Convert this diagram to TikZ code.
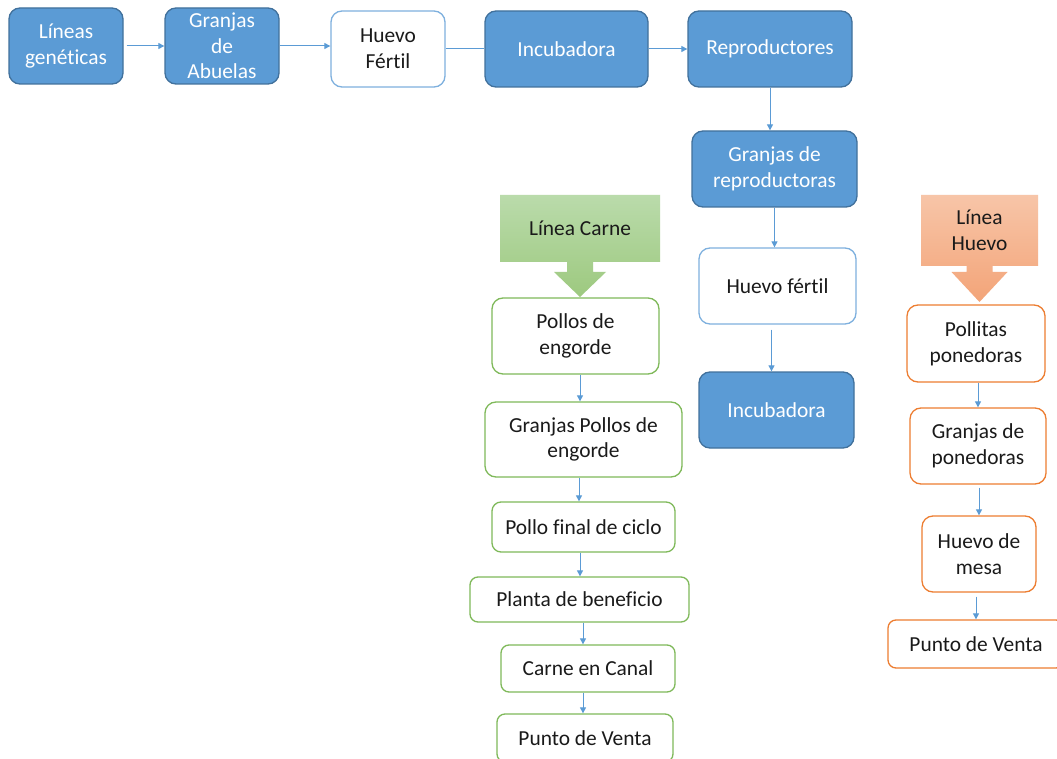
\documentclass[tikz,border=0pt]{standalone}
\usepackage{fontspec}
\setmainfont{Carlito}[Ligatures={NoCommon}]
\usetikzlibrary{calc,arrows.meta}
\definecolor{bfill}{HTML}{5B9BD5}
\definecolor{bdraw}{HTML}{41719C}
\definecolor{lblue}{HTML}{7EB0DE}
\definecolor{gdraw}{HTML}{7FB95A}
\definecolor{odraw}{HTML}{ED7D31}
\definecolor{arrc}{HTML}{5B9BD5}
\definecolor{gtop}{HTML}{BADBAB}
\definecolor{gbot}{HTML}{9DC97F}
\definecolor{otop}{HTML}{F7C5A8}
\definecolor{obot}{HTML}{F3A478}
\definecolor{txt}{HTML}{1A1A1A}
\begin{document}
\begin{tikzpicture}[x=1pt,y=-1pt,
 box/.style={rectangle, rounded corners=11pt, line width=1.3pt, inner sep=0pt, align=center, text=txt,
   font=\fontsize{21.4}{25.7}\selectfont},
 bluebox/.style={box, fill=bfill, draw=bdraw, text=white},
 whitebox/.style={box, fill=white, draw=lblue},
 greenbox/.style={box, fill=white, draw=gdraw},
 orangebox/.style={box, fill=white, draw=odraw},
 arr/.style={draw=arrc, line width=1pt, -{Triangle[length=6pt,width=6pt]}},
 link/.style={draw=arrc, line width=1pt},
 sz/.style 2 args={minimum width=#1pt, minimum height=#2pt}
]
\useasboundingbox (0,0) rectangle (1057,759);
\clip (0,0) rectangle (1057,759);
\fill[white] (0,0) rectangle (1057,759);

% top row
\node[bluebox, sz={114}{76}] (lg) at (66,46) {Líneas\\genéticas};
\node[bluebox, sz={114}{76}] (ga) at (222,46) {Granjas\\de\\Abuelas};
\node[whitebox, sz={114}{76}] (hf) at (388,49) {Huevo\\Fértil};
\node[bluebox, sz={163}{76}] (inc) at (566.5,49) {Incubadora};
\node[bluebox, sz={164}{76}] (rep) at (770,49) {Reproductores};
\node[bluebox, sz={165}{76}] (grep) at (774.5,169) {Granjas de\\reproductoras};
\node[whitebox, sz={157}{76}] (hf2) at (777.5,286) {Huevo fértil};
\node[bluebox, sz={155}{76}] (inc2) at (776.5,410) {Incubadora};

% Linea Carne
\coordinate (lcc) at (580,228.5);
\shade[top color=gtop, bottom color=gbot]
  ($(lcc)+(-80,-33.5)$) -- ($(lcc)+(80,-33.5)$) -- ($(lcc)+(80,33.5)$) -- ($(lcc)+(13,33.5)$)
  -- ($(lcc)+(13,43.5)$) -- ($(lcc)+(26,43.5)$) -- ($(lcc)+(0,68.5)$) -- ($(lcc)+(-26,43.5)$)
  -- ($(lcc)+(-13,43.5)$) -- ($(lcc)+(-13,33.5)$) -- ($(lcc)+(-80,33.5)$) -- cycle;
\node[box, sz={160}{67}] (lc) at (lcc) {Línea Carne};

\node[greenbox, sz={167}{76}] (pe) at (575.5,336) {Pollos de\\engorde};
\node[greenbox, sz={197}{75}] (gpe) at (583.5,439.5) {Granjas Pollos de\\engorde};
\node[greenbox, sz={183}{50}, rounded corners=9pt] (pfc) at (583.5,527) {Pollo final de ciclo};
\node[greenbox, sz={219}{45}, rounded corners=8pt] (pb) at (579.5,599.5) {Planta de beneficio};
\node[greenbox, sz={174}{47}, rounded corners=8pt] (cc) at (588,668.5) {Carne en Canal};
\node[greenbox, sz={176}{48}, rounded corners=8pt] (pv) at (585,738) {Punto de Venta};

% Linea Huevo
\coordinate (lhc) at (979.5,230.5);
\shade[top color=otop, bottom color=obot]
  ($(lhc)+(-58.5,-35.5)$) -- ($(lhc)+(58.5,-35.5)$) -- ($(lhc)+(58.5,35.5)$) -- ($(lhc)+(13,35.5)$)
  -- ($(lhc)+(13,41.5)$) -- ($(lhc)+(28,41.5)$) -- ($(lhc)+(0,71.5)$) -- ($(lhc)+(-28,41.5)$)
  -- ($(lhc)+(-13,41.5)$) -- ($(lhc)+(-13,35.5)$) -- ($(lhc)+(-58.5,35.5)$) -- cycle;
\node[box, sz={117}{71}] (lh) at (lhc) {Línea\\Huevo};

\node[orangebox, sz={138}{77}] (pp) at (976,343.5) {Pollitas\\ponedoras};
\node[orangebox, sz={136}{76}] (gp) at (978,446) {Granjas de\\ponedoras};
\node[orangebox, sz={114}{76}] (hm) at (979,554) {Huevo de\\mesa};
\node[orangebox, sz={176}{48}, rounded corners=8pt] (pv2) at (976,644) {Punto de Venta};

% connectors
\draw[arr, shorten <=3pt] (lg.east) -- (ga.west);
\draw[arr] (ga.east) -- (ga.east -| hf.west);
\draw[link] (hf.east) -- (inc.west);
\draw[arr] (inc.east) -- (rep.west);
\draw[arr] (rep.south) -- (rep.south |- grep.north);
\draw[arr] (grep.south) -- (grep.south |- hf2.north);
\draw[arr] ([xshift=-6pt,yshift=-5pt]hf2.south) -- ([xshift=-6pt]hf2.south |- inc2.north);

\draw[arr] ([xshift=4.5pt]pe.south) -- ([xshift=4.5pt]pe.south |- gpe.north);
\draw[arr] ([xshift=-4.5pt]gpe.south) -- ([xshift=-4.5pt]gpe.south |- pfc.north);
\draw[arr] ([xshift=-3.5pt]pfc.south) -- ([xshift=-3.5pt]pfc.south |- pb.north);
\draw[arr] ([xshift=3.5pt]pb.south) -- ([xshift=3.5pt]pb.south |- cc.north);
\draw[arr] ([xshift=-5pt]cc.south) -- ([xshift=-5pt]cc.south |- pv.north);

\draw[arr] ([xshift=2pt]pp.south) -- ([xshift=2pt]pp.south |- gp.north);
\draw[arr] ([xshift=1pt,yshift=-3pt]gp.south) -- ([xshift=1pt]gp.south |- hm.north);
\draw[arr] ([xshift=-3pt,yshift=-4pt]hm.south) -- ([xshift=-3pt]hm.south |- pv2.north);
\end{tikzpicture}
\end{document}
